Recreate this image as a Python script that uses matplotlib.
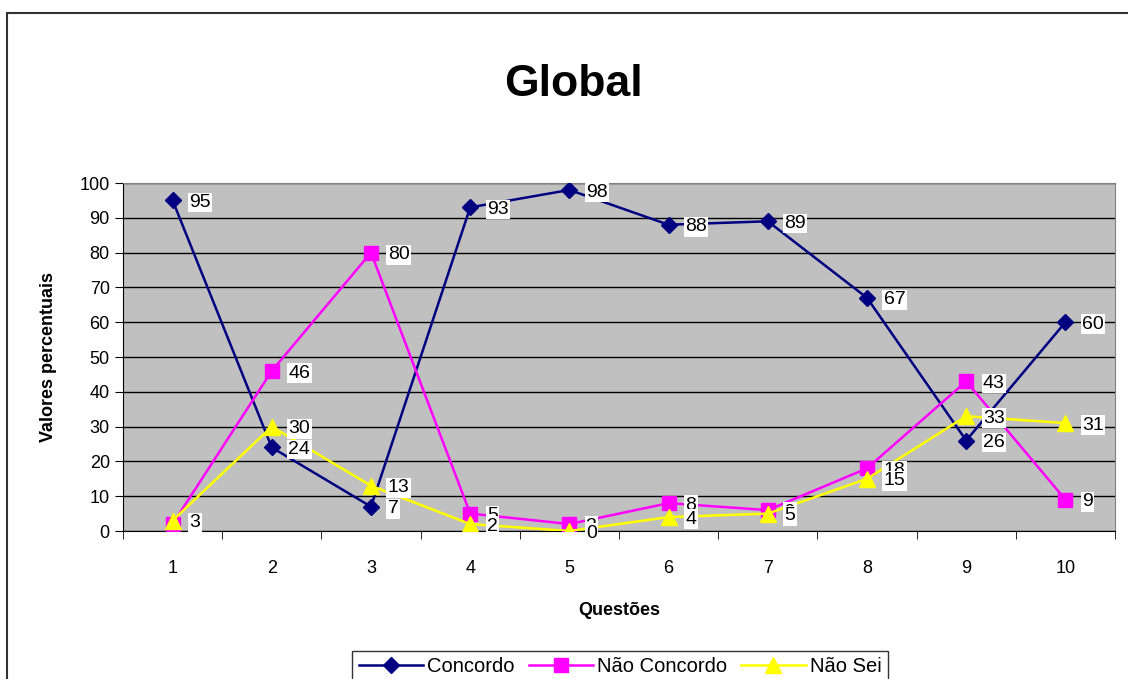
import matplotlib.pyplot as plt
from matplotlib.patches import Rectangle

# Data
questoes = [1, 2, 3, 4, 5, 6, 7, 8, 9, 10]
concordo = [95, 24, 7, 93, 98, 88, 89, 67, 26, 60]
nao_concordo = [2, 46, 80, 5, 2, 8, 6, 18, 43, 9]
nao_sei = [3, 30, 13, 2, 0, 4, 5, 15, 33, 31]

fig = plt.figure(figsize=(11.28, 6.79), dpi=100)
plt.rcParams['font.family'] = ['Liberation Sans', 'DejaVu Sans']

# outer chart border (runs off the right/bottom edges like the original)
fig.patches.append(Rectangle((7 / 1128, -0.1), 1.2, 1 - 13 / 679 + 0.1,
                             transform=fig.transFigure, fill=False,
                             edgecolor='#333333', linewidth=1.5))

ax = fig.add_axes([123 / 1128, 1 - 531 / 679, (1115 - 123) / 1128, (531 - 183) / 679])
ax.set_facecolor('#C0C0C0')

series = [
    ('Concordo', concordo, '#000080', 'D', 8),
    ('Não Concordo', nao_concordo, '#FF00FF', 's', 10),
    ('Não Sei', nao_sei, '#FFFF00', '^', 11),
]

for name, vals, col, mk, ms in series:
    ax.plot(questoes, vals, color=col, marker=mk, markersize=ms, linewidth=1.8,
            label=name, zorder=3)

# data labels with white boxes
for name, vals, col, mk, ms in series:
    for x, v in zip(questoes, vals):
        ax.annotate(str(v), (x, v), xytext=(12, -1.5), textcoords='offset points',
                    ha='left', va='center', fontsize=14,
                    bbox=dict(facecolor='white', edgecolor='none', pad=1),
                    zorder=4)

ax.set_xlim(0.5, 10.5)
ax.set_ylim(0, 100)
ax.set_yticks(range(0, 101, 10))
ax.set_xticks(questoes)
ax.set_xticks([i + 0.5 for i in range(0, 11)], minor=True)
ax.tick_params(axis='x', which='major', length=0, labelsize=13, pad=21)
ax.tick_params(axis='x', which='minor', length=6, direction='out')
ax.tick_params(axis='y', length=6, direction='out', labelsize=13)
ax.grid(axis='y', color='black', linewidth=1)
ax.set_axisbelow(True)

for s in ['top', 'right']:
    ax.spines[s].set_color('#808080')
for s in ['left', 'bottom']:
    ax.spines[s].set_color('black')

ax.set_xlabel('Questões', fontsize=13, fontweight='bold', labelpad=18)
ax.set_ylabel('Valores percentuais', fontsize=13, fontweight='bold', labelpad=16)

fig.text(573 / 1128, 1 - 85 / 679, 'Global', ha='center', va='center',
         fontsize=32, fontweight='bold')

leg = fig.legend(loc='center', bbox_to_anchor=(620 / 1128, 1 - 667 / 679), ncol=3,
                 fontsize=14.5, frameon=True, fancybox=False, edgecolor='black',
                 handlelength=3.2, columnspacing=0.7, handletextpad=0.2,
                 borderpad=0.3)
leg.get_frame().set_linewidth(1)

fig.savefig('out.png', dpi=100)
